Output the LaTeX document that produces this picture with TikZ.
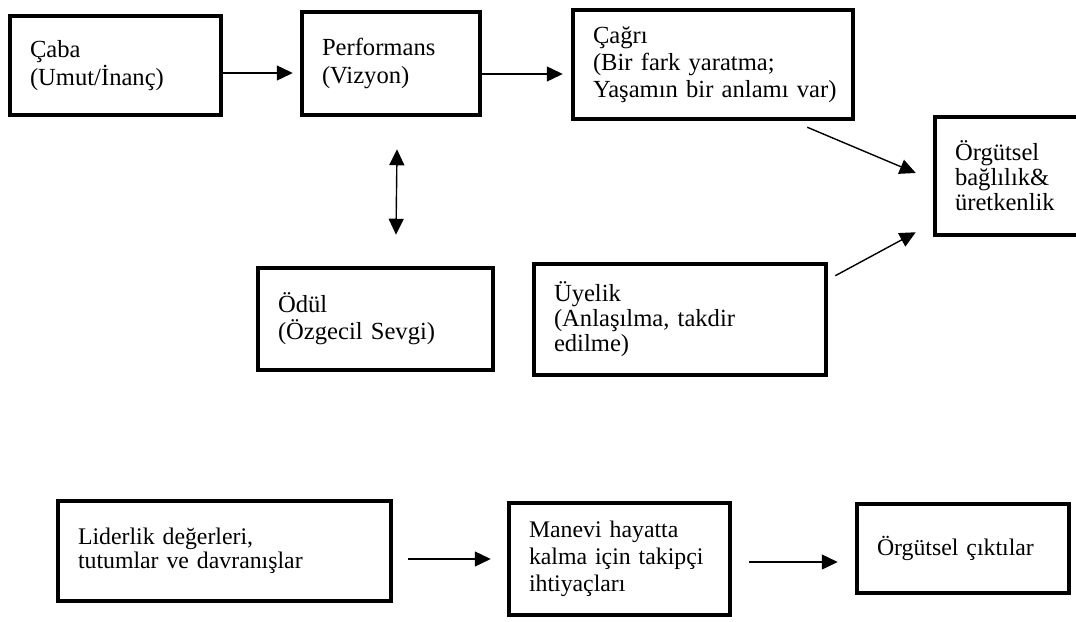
\documentclass[tikz,border=0pt]{standalone}
\usepackage{fontspec}
\setmainfont{Liberation Serif}
\usetikzlibrary{arrows.meta,calc}
\begin{document}
\begin{tikzpicture}[x=1pt,y=-1pt,
  box/.style={draw=black, line width=4.5pt, rectangle, inner xsep=20pt, inner ysep=0pt,
    align=left, anchor=center},
  fs/.style={font=\fontsize{24.6}{#1}\selectfont},
  fb/.style={font=\fontsize{23.8}{#1}\selectfont},
  tip/.tip={Triangle[length=16pt,width=15pt]},
  arr/.style={line width=1.4pt, -tip},
  darr/.style={line width=1.4pt, tip-tip}]
\clip (0,0) rectangle (1076,621);
\fill[white] (0,0) rectangle (1076,621);

% top part
\node[box, fs=28, text width=171pt, minimum height=99pt]  (caba)   at (115.5,65.5) {Çaba\\(Umut/İnanç)};
\node[box, fs=28, text width=138pt, minimum height=103pt] (perf)   at (391,63.5)   {Performans\\(Vizyon)};
\node[box, fs=27, text width=240pt, minimum height=109pt] (cagri)  at (713,64.5)   {Çağrı\\\mbox{(Bir fark yaratma;}\\\mbox{Yaşamın bir anlamı var)}};
\node[box, fs=25, text width=140pt, minimum height=118pt] (org)    at (1025,176)   {Örgütsel\\bağlılık\&\\üretkenlik};
\node[box, fs=27, text width=195pt, minimum height=102pt] (odul)   at (375.5,319)  {Ödül\\(Özgecil Sevgi)};
\node[box, fs=25, text width=252pt, minimum height=111pt] (uyelik) at (680,319.5)  {Üyelik\\\mbox{(Anlaşılma, takdir}\\edilme)};

\draw[arr] ([yshift=-7.5pt]caba.east) -- ([xshift=-7pt,yshift=-7.5pt]perf.west |- caba.east);
\draw[arr] ([yshift=-10.5pt]perf.east) -- ([xshift=-8pt,yshift=-10.5pt]cagri.west |- perf.east);
\draw[arr] ([xshift=-48pt,yshift=-6pt]cagri.south east) -- ([xshift=-17pt,yshift=3pt]org.west);
\draw[arr] ([xshift=7pt,yshift=-14pt]uyelik.north east) -- ([xshift=-17pt,yshift=5pt]org.south west);
\draw[darr] ([xshift=6pt,yshift=-32pt]perf.south) -- ([xshift=20.5pt,yshift=31pt]odul.north);

% bottom part
\node[box, fb=24, text width=293pt, minimum height=100pt] (lider)  at (224.5,551)  {Liderlik değerleri,\\tutumlar ve davranışlar};
\node[box, fb=27, text width=181pt, minimum height=112pt] (manevi) at (619.5,559)  {Manevi hayatta\\\mbox{kalma için takipçi}\\ihtiyaçları};
\node[box, fb=26, text width=172pt, minimum height=89pt]  (cikti)  at (963,548.5)  {\mbox{Örgütsel çıktılar}};

\draw[arr] ([xshift=15pt,yshift=-8pt]lider.east) -- ([xshift=-16pt]manevi.west);
\draw[arr] ([xshift=17pt,yshift=-3pt]manevi.east) -- ([xshift=-17pt,yshift=-13.5pt]cikti.west);
\end{tikzpicture}
\end{document}
